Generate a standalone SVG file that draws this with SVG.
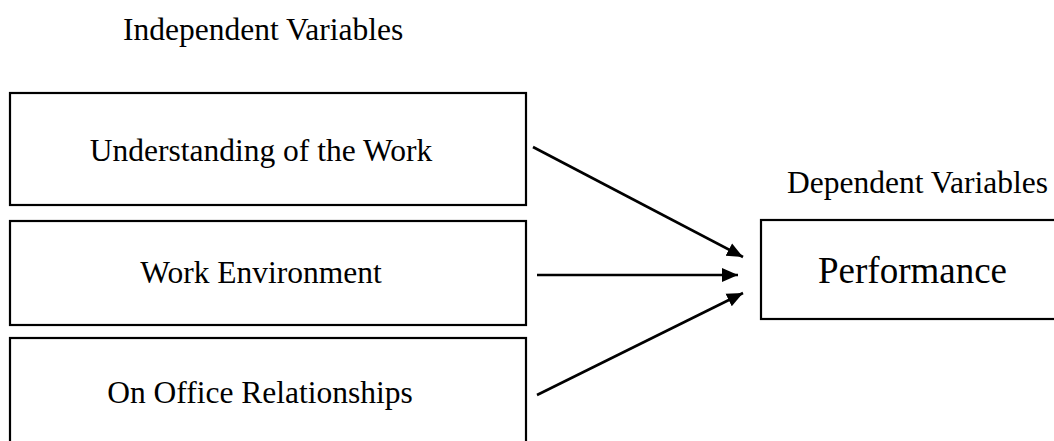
<svg xmlns="http://www.w3.org/2000/svg" width="1054" height="441" viewBox="0 0 1054 441">
<style>
.box{fill:#fff;stroke:#000;stroke-width:2.2}
.t{font-family:"Liberation Serif","Times New Roman",serif;font-size:31.5px;fill:#000}
.c{stroke:#000;stroke-width:2.6;fill:none}
</style>
<defs>
<marker id="ah" markerUnits="userSpaceOnUse" markerWidth="18" markerHeight="16" refX="16" refY="7" orient="auto" viewBox="0 0 18 14">
<path d="M0,0 L16,7 L0,14 z" fill="#000"/>
</marker>
</defs>
<rect width="1054" height="441" fill="#fff"/>
<text class="t" x="123" y="40">Independent Variables</text>
<text class="t" x="787" y="193">Dependent Variables</text>
<g id="n1"><rect class="box" x="10" y="93" width="516" height="112"/><text class="t" x="261" y="161" text-anchor="middle">Understanding of the Work</text></g>
<g id="n2"><rect class="box" x="10" y="221" width="516" height="104"/><text class="t" x="261" y="283" text-anchor="middle">Work Environment</text></g>
<g id="n3"><rect class="box" x="10" y="338" width="516" height="130"/><text class="t" x="260" y="403" text-anchor="middle">On Office Relationships</text></g>
<g id="n4"><rect class="box" x="761" y="220" width="330" height="99"/><text class="t" x="818" y="283" style="font-size:37px">Performance</text></g>
<g id="connectors">
<line class="c" x1="533" y1="147" x2="743" y2="257" marker-end="url(#ah)"/>
<line class="c" x1="537" y1="275" x2="738" y2="275" marker-end="url(#ah)"/>
<line class="c" x1="537" y1="395" x2="743" y2="293" marker-end="url(#ah)"/>
</g>
</svg>
